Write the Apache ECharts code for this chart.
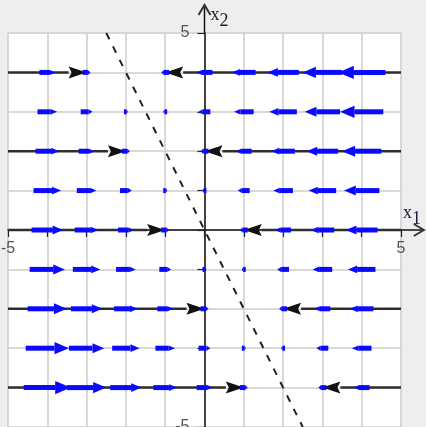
<!DOCTYPE html>
<html><head><meta charset="utf-8">
<script src="https://cdn.jsdelivr.net/npm/echarts@6/dist/echarts.min.js"></script>
<style>html,body{margin:0;padding:0;background:#eeeeee;overflow:hidden}#c{width:426px;height:427px;}</style>
</head><body><div id="c"></div>
<script>
// ---- data ----
const gridX1 = [-4, -3, -2, -1, 0, 1, 2, 3, 4];
const gridX2 = [4, 3, 2, 1, 0, -1, -2, -3, -4];
// horizontal component of the direction field at each grid point (rows follow gridX2)
const fieldRowP4 = [4, 2, 0, -2, -4, -6, -8, -10, -12];
const fieldRowP3 = [5, 3, 1, -1, -3, -5, -7, -9, -11];
const fieldRowP2 = [6, 4, 2, 0, -2, -4, -6, -8, -10];
const fieldRowP1 = [7, 5, 3, 1, -1, -3, -5, -7, -9];
const fieldRow0  = [8, 6, 4, 2, 0, -2, -4, -6, -8];
const fieldRowM1 = [9, 7, 5, 3, 1, -1, -3, -5, -7];
const fieldRowM2 = [10, 8, 6, 4, 2, 0, -2, -4, -6];
const fieldRowM3 = [11, 9, 7, 5, 3, 1, -1, -3, -5];
const fieldRowM4 = [12, 10, 8, 6, 4, 2, 0, -2, -4];
const fieldRows = [fieldRowP4, fieldRowP3, fieldRowP2, fieldRowP1, fieldRow0, fieldRowM1, fieldRowM2, fieldRowM3, fieldRowM4];
// solution trajectories (horizontal lines)
const trajX2 = [4, 2, 0, -2, -4];
const trajLeftEnd = [-3, -2, -1, 0, 1];
const trajRightEnd = [-1, 0, 1, 2, 3];
// dashed nullcline
const nullX1 = [-2.5, 2.5];
const nullX2 = [5, -5];
// axis tick labels
const x1TickLabels = [-5, 5];
const x2TickLabels = [5, -5];

// ---- styling constants ----
const BLUE = '#0a0aff';
const ARROW_SCALE = 0.1;

const fieldData = [];
gridX2.forEach((y, i) => gridX1.forEach((x, j) => fieldData.push([x, y, fieldRows[i][j]])));
const trajData = [];
trajX2.forEach((y, i) => {
  trajData.push([-5, y, trajLeftEnd[i]]);
  trajData.push([5, y, trajRightEnd[i]]);
});
const nullData = nullX1.map((x, i) => [x, nullX2[i]]);
const axisExt = [[5, 0, 5.58, 0], [0, 5, 0, 5.71]];
const labelData = x1TickLabels.map(v => [v, 0, 'x']).concat(x2TickLabels.map(v => [0, v, 'y']));

function blueArrow(params, api) {
  const x = api.value(0), y = api.value(1), v = api.value(2);
  if (!v) return null;
  const a = api.coord([x - ARROW_SCALE * v / 2, y]);
  const b = api.coord([x + ARROW_SCALE * v / 2, y]);
  const L = Math.abs(b[0] - a[0]);
  const dir = Math.sign(b[0] - a[0]);
  const hl = L / 3;
  const hw = Math.max(5, hl * 0.85);
  const base = b[0] - dir * hl;
  return { type: 'group', children: [
    { type: 'line', shape: { x1: a[0], y1: a[1], x2: base, y2: b[1] }, style: { stroke: BLUE, lineWidth: 5, lineCap: 'butt' } },
    { type: 'polygon', shape: { points: [[b[0], b[1]], [base, b[1] - hw / 2], [base, b[1] + hw / 2]] }, style: { fill: BLUE } }
  ]};
}
function trajectory(params, api) {
  const a = api.coord([api.value(0), api.value(1)]);
  const b = api.coord([api.value(2), api.value(1)]);
  const dir = Math.sign(b[0] - a[0]);
  const hl = 18, hw = 12;
  const base = b[0] - dir * hl;
  return { type: 'group', children: [
    { type: 'line', shape: { x1: a[0], y1: a[1], x2: base, y2: b[1] }, style: { stroke: '#2e2e2e', lineWidth: 2.5 } },
    { type: 'polygon', shape: { points: [[b[0], b[1]], [base, b[1] - hw / 2], [base + dir * 3, b[1]], [base, b[1] + hw / 2]] }, style: { fill: '#111' } }
  ]};
}
function axisArrow(params, api) {
  const a = api.coord([api.value(0), api.value(1)]);
  const b = api.coord([api.value(2), api.value(3)]);
  const dx = b[0] - a[0], dy = b[1] - a[1];
  const len = Math.hypot(dx, dy); const ux = dx / len, uy = dy / len;
  const px = -uy, py = ux;
  const hl = 10, hw = 6;
  return { type: 'group', children: [
    { type: 'line', shape: { x1: a[0], y1: a[1], x2: b[0], y2: b[1] }, style: { stroke: '#111', lineWidth: 1.5 } },
    { type: 'polyline', shape: { points: [
      [b[0] - ux * hl + px * hw, b[1] - uy * hl + py * hw], [b[0], b[1]], [b[0] - ux * hl - px * hw, b[1] - uy * hl - py * hw]] },
      style: { stroke: '#333', lineWidth: 2, fill: null } }
  ]};
}
function tickLabel(params, api) {
  const kind = labelData[params.dataIndex][2];
  const v = kind === 'x' ? api.value(0) : api.value(1);
  const p = api.coord([api.value(0), api.value(1)]);
  const style = { text: String(v), fill: '#555', font: '16px "Liberation Sans", Arial, sans-serif' };
  if (kind === 'x') Object.assign(style, { x: p[0], y: p[1] + 11, align: 'center', verticalAlign: 'top' });
  else Object.assign(style, { x: p[0] - 15, y: p[1], align: 'right', verticalAlign: 'middle' });
  return { type: 'text', style: style };
}

const nameRich = {
  x: { fontFamily: 'Liberation Serif', fontSize: 18, color: '#1c1c3a' },
  s: { fontFamily: 'Liberation Serif', fontSize: 18, color: '#1c1c3a', padding: [12, 0, 0, 0] }
};
const axisCommon = {
  type: 'value', min: -5, max: 5, interval: 1,
  axisLine: { show: true, onZero: true, lineStyle: { color: '#111', width: 1.5 } },
  axisTick: { show: true, length: 7, lineStyle: { color: '#222', width: 1.2 } },
  axisLabel: { show: false },
  splitLine: { show: true, lineStyle: { color: '#cccccc', width: 1.5 } },
  nameLocation: 'end'
};

const chart = echarts.init(document.getElementById('c'), null, { renderer: 'canvas' });
chart.setOption({
  animation: false,
  backgroundColor: '#eeeeee',
  grid: { left: 8, right: 25, top: 33, bottom: 0, show: true, backgroundColor: '#ffffff', borderWidth: 0,
          containLabel: false, outerBoundsMode: 'none' },
  xAxis: Object.assign({}, axisCommon, {
    name: '{x|x}{s|1}', nameGap: 2,
    nameTextStyle: { rich: nameRich, align: 'left', verticalAlign: 'bottom', padding: [0, 0, 2, 0] }
  }),
  yAxis: Object.assign({}, axisCommon, {
    name: '{x|x}{s|2}', nameGap: 3,
    nameTextStyle: { rich: nameRich, align: 'left', verticalAlign: 'bottom', padding: [0, 0, 0, 6] }
  }),
  series: [
    { type: 'custom', name: 'trajectories', renderItem: trajectory, data: trajData, encode: { x: [0, 2], y: 1 }, z: 3, silent: true },
    { type: 'custom', name: 'field', renderItem: blueArrow, data: fieldData, encode: { x: 0, y: 1 }, z: 4, silent: true },
    { type: 'line', name: 'nullcline', data: nullData, showSymbol: false, symbol: 'none', z: 5, silent: true,
      lineStyle: { color: '#222', width: 2, type: [7, 8] } },
    { type: 'custom', name: 'axes', renderItem: axisArrow, data: axisExt, encode: { x: [0, 2], y: [1, 3] }, clip: false, z: 6, silent: true },
    { type: 'custom', name: 'tickLabels', renderItem: tickLabel, data: labelData.map(d => [d[0], d[1]]), encode: { x: 0, y: 1 }, clip: false, z: 6, silent: true }
  ]
});
</script>
</body></html>
